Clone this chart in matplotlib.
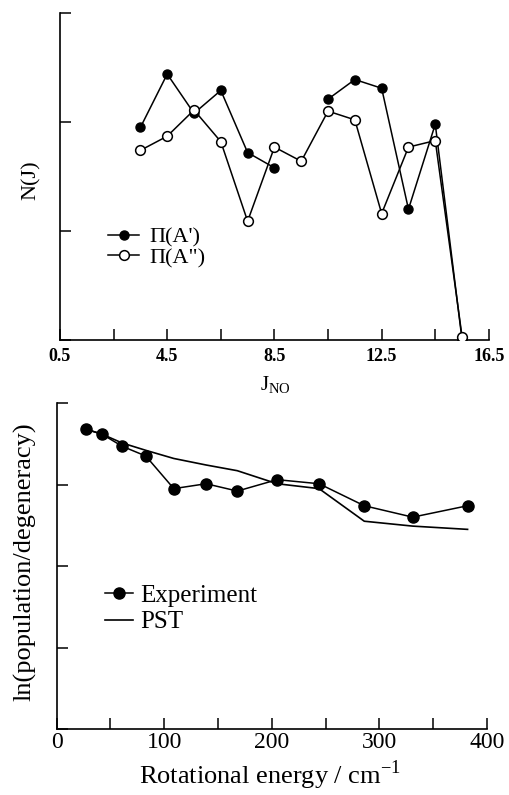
import numpy as np
import matplotlib
matplotlib.use('Agg')
import matplotlib.pyplot as plt

plt.rcParams['font.family'] = ['Liberation Serif', 'DejaVu Serif']
plt.rcParams['mathtext.fontset'] = 'custom'
plt.rcParams['mathtext.rm'] = 'Liberation Serif'

# rotational state distribution of NO for the two Lambda-doublet components
j_no = [3.5, 4.5, 5.5, 6.5, 7.5, 8.5, 9.5, 10.5, 11.5, 12.5, 13.5, 14.5, 15.5]
n_ap = [1.95, 2.44, 2.08, 2.29, 1.72, 1.58, np.nan, 2.21, 2.39, 2.31, 1.20, 1.98, 0.0]
n_app = [1.74, 1.87, 2.11, 1.82, 1.09, 1.77, 1.64, 2.10, 2.02, 1.16, 1.77, 1.83, 0.03]

# Boltzmann-type plot, experiment vs phase space theory
e_rot = [27, 42, 61, 83, 109, 139, 168, 205, 244, 286, 331, 382]
ln_exp = [3.68, 3.62, 3.47, 3.35, 2.95, 3.01, 2.92, 3.06, 3.01, 2.74, 2.60, 2.74]
ln_pst = [3.68, 3.62, 3.51, 3.42, 3.32, 3.24, 3.17, 3.01, 2.95, 2.55, 2.49, 2.45]

top_ticks = np.arange(0.5, 16.6, 2)
top_labels = ['0.5', '', '4.5', '', '8.5', '', '12.5', '', '16.5']
bot_ticks = np.arange(0, 401, 50)
bot_labels = ['0', '', '100', '', '200', '', '300', '', '400']

fig = plt.figure(figsize=(5.1, 7.95), dpi=100)

def style_axes(ax):
    for s in ['top', 'right']:
        ax.spines[s].set_visible(False)
    ax.spines['left'].set_linewidth(1.2)
    ax.spines['bottom'].set_linewidth(1.2)
    ax.tick_params(direction='in', length=8, width=1.1)
    ax.set_yticklabels([])

# --- upper panel ---
ax1 = fig.add_axes([0.1176, 0.5723, 0.841, 0.4113])
ax1.plot(j_no, n_ap, '-o', color='black', lw=1.1, ms=6.5, mfc='black', mec='black', label="Π(A')", zorder=2)
ax1.plot(j_no, n_app, '-o', color='black', lw=1.1, ms=7, mfc='white', mec='black', mew=1.1, label='Π(A")', zorder=3)
ax1.set_xlim(0.5, 16.5)
ax1.set_ylim(0, 3)
ax1.set_yticks([0, 1, 2, 3])
ax1.set_xticks(top_ticks)
ax1.set_xticklabels(top_labels, fontsize=13, fontweight='bold')
ax1.tick_params(axis='x', pad=6)
style_axes(ax1)
ax1.set_xlabel(r'J$_{\rm NO}$', fontsize=15)
ax1.xaxis.set_label_coords(0.5035, -0.105)
ax1.legend(loc='center left', bbox_to_anchor=(0.112, 0.283), frameon=False, fontsize=16,
           handlelength=1.4, handletextpad=0.45, labelspacing=0.0, borderpad=0, borderaxespad=0)
fig.text(31 / 510, 1 - 180 / 795, 'N(J)', rotation=90, ha='center', va='center', fontsize=16)

# --- lower panel ---
ax2 = fig.add_axes([0.1108, 0.083, 0.844, 0.410])
ax2.plot(e_rot, ln_exp, '-o', color='black', lw=1.1, ms=8, label='Experiment', zorder=3)
ax2.plot(e_rot, ln_pst, '-', color='black', lw=1.2, label='PST', zorder=2)
ax2.set_xlim(0, 400)
ax2.set_ylim(0, 4)
ax2.set_yticks([0, 1, 2, 3, 4])
ax2.set_xticks(bot_ticks)
ax2.set_xticklabels(bot_labels, fontsize=17)
ax2.tick_params(axis='x', pad=2)
style_axes(ax2)
ax2.set_xlabel('Rotational energy / cm$^{-1}$', fontsize=19)
ax2.xaxis.set_label_coords(0.495, -0.09)
ax2.legend(loc='center left', bbox_to_anchor=(0.113, 0.368), frameon=False, fontsize=18,
           handlelength=1.1, handletextpad=0.3, labelspacing=0.15, borderpad=0, borderaxespad=0)
fig.text(25 / 510, 1 - 562 / 795, 'ln(population/degeneracy)', rotation=90, ha='center', va='center', fontsize=19)

fig.savefig('out.png', dpi=100)
